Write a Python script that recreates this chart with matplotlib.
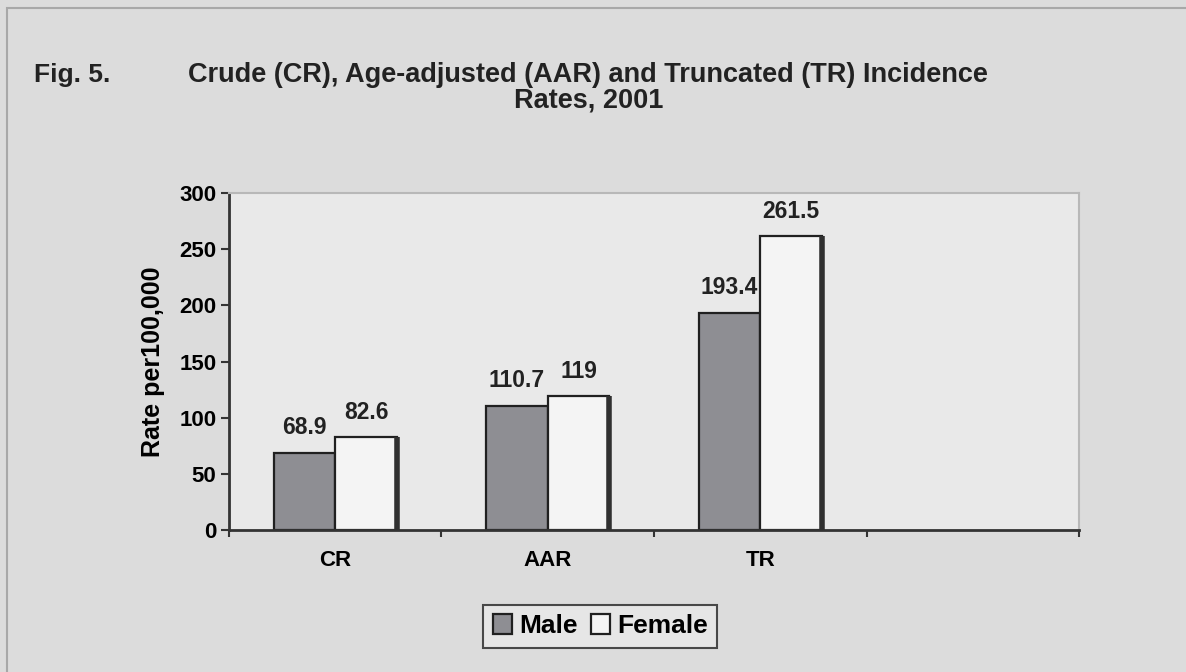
# Fig. 5 crude / age-adjusted / truncated incidence rates

import matplotlib.pyplot as plt
import numpy as np
from matplotlib.patches import Rectangle

plt.rc('font', family='Liberation Sans', weight='bold')

categories = ['CR', 'AAR', 'TR']
male = [68.9, 110.7, 193.4]
female = [82.6, 119, 261.5]
n_slots = 4  # excel left an empty fourth category

fig = plt.figure(figsize=(11.86, 6.72), dpi=100, facecolor='#dcdcdc')
fig.patches.append(Rectangle((0.006, -0.01), 1.1, 0.998, transform=fig.transFigure,
                             fill=False, edgecolor='#a8a8a8', linewidth=1.5))

ax = fig.add_axes([0.193, 0.211, 0.717, 0.502])
ax.set_facecolor('#e9e9e9')

x = np.arange(len(categories))
w = 0.29
b1 = ax.bar(x - w / 2, male, w, color='#8e8e93', edgecolor='#202020', linewidth=1.6, label='Male')
b2 = ax.bar(x + w / 2, female, w, color='#f4f4f4', edgecolor='#202020', linewidth=1.6, label='Female')

# dark shadow on right side of the white bars
for r, v in zip(b2, female):
    ax.vlines(r.get_x() + r.get_width(), 0, v, color='#303030', linewidth=4, zorder=3)

for bars, vals in ((b1, male), (b2, female)):
    for r, v in zip(bars, vals):
        ax.annotate('{:g}'.format(v), (r.get_x() + r.get_width() / 2, v),
                    xytext=(0, 18), textcoords='offset points', ha='center', va='center',
                    fontsize=16.5, color='#222222')

ax.set_xlim(-0.5, n_slots - 0.5)
ax.set_ylim(0, 300)
ax.set_yticks(np.arange(0, 301, 50))
ax.set_xticks(np.arange(-0.5, n_slots, 1.0))
ax.set_xticklabels([])
ax.set_xticks(x, minor=True)
ax.set_xticklabels(categories, minor=True)
ax.tick_params(axis='x', which='minor', length=0, pad=14, labelsize=16)
ax.tick_params(axis='x', which='major', length=5, width=1.5, direction='out', color='#333333')
ax.tick_params(axis='y', length=6, width=1.5, direction='out', labelsize=16, color='#333333', pad=3)

for s in ('left', 'bottom'):
    ax.spines[s].set_color('#333333')
    ax.spines[s].set_linewidth(2)
for s in ('top', 'right'):
    ax.spines[s].set_color('#b8b8b8')
    ax.spines[s].set_linewidth(1.5)

ax.set_ylabel('Rate per100,000', fontsize=18, fontweight='bold', labelpad=10)

fig.text(0.029, 0.888, 'Fig. 5.', fontsize=19, ha='left', va='center', color='#222222')
fig.text(0.496, 0.888, 'Crude (CR), Age-adjusted (AAR) and Truncated (TR) Incidence',
         fontsize=19.5, ha='center', va='center', color='#222222')
fig.text(0.496, 0.850, 'Rates, 2001', fontsize=19.5, ha='center', va='center', color='#222222')

leg = fig.legend(handles=[b1, b2], loc='center', bbox_to_anchor=(0.506, 0.068), ncol=2,
                 fontsize=19, frameon=True, fancybox=False, edgecolor='#222222',
                 facecolor='#e9e9e9', handlelength=0.75, handleheight=0.75,
                 handletextpad=0.25, columnspacing=0.5, borderpad=0.35)
leg.get_frame().set_linewidth(1.5)

plt.savefig('out.png', dpi=100, facecolor=fig.get_facecolor())
